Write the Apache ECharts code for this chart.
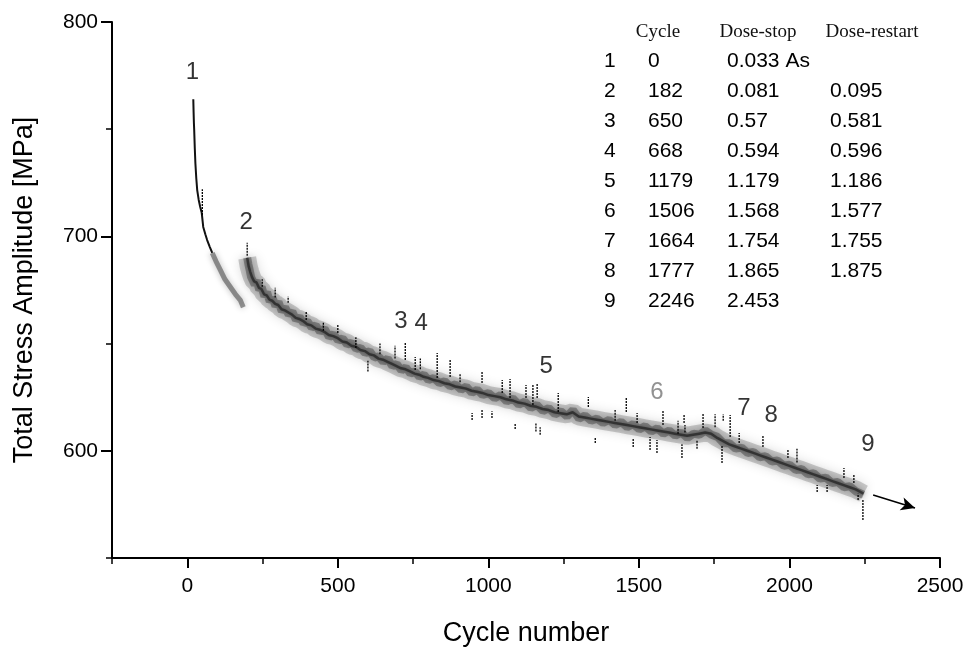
<!DOCTYPE html>
<html><head><meta charset="utf-8">
<script src="https://cdn.jsdelivr.net/npm/echarts@6/dist/echarts.min.js"></script>
<style>html,body{margin:0;padding:0;background:#fff}#c{width:967px;height:647px}</style>
</head><body><div id="c"></div>
<script>
// ---- data ----
const xMajorTicks = [0, 500, 1000, 1500, 2000, 2500];
const yMajorTicks = [600, 700, 800];

const initialBlack = [[20,764],[21,758],[22,753],[23,749.6],[25,741],[27,734],[30,727],[33,721.6],[38,717],[43,713.7],[48,711],[53,704.4],[60,701],[66,698.3],[75,695],[83,692.3]];
const initialGrey = [[83,692.3],[95,688.5],[110,684.3],[125,680],[143,676.4],[160,673],[176,670.3],[186,667]];

const bandCore = [[199,690],[204,686],[209,683.5],[215,681],[222,679],[230,678.5],[238,676],[246,675.5],[255,673],[264,672.5],[273,670.5],[282,670],[292,668.5],[302,668],[313,666],[324,665.5],[336,664.5],[348,663.5],[360,662],[372,661.5],[385,660.5],[398,659],[412,658.5],[426,657],[440,656.5],[455,655.5],[470,654],[485,653.5],[500,652.5],[515,651],[530,650.5],[545,649],[560,648.5],[575,647],[590,646.5],[605,645],[620,644.5],[635,643],[650,642.5],[665,641.5],[680,640.5],[695,639.5],[710,638.5],[725,638],[740,637],[755,636],[770,635.5],[785,634.5],[800,634],[818,633],[836,632.5],[854,631.5],[872,631],[890,630],[908,629.5],[926,629],[944,628],[962,627.5],[980,627],[1000,626],[1020,625.5],[1040,625],[1060,624],[1080,623.5],[1100,622.5],[1120,622],[1140,621],[1160,620.5],[1180,619.5],[1200,619],[1220,618],[1240,617.5],[1260,617],[1280,618],[1300,616],[1320,615.5],[1340,615],[1360,614.5],[1380,614],[1400,613.5],[1420,613],[1440,612.5],[1460,612],[1480,611.5],[1500,611],[1520,610.5],[1540,610],[1560,609.5],[1580,609],[1600,608.5],[1620,608],[1640,607.5],[1660,607],[1680,607.5],[1700,608],[1720,608.5],[1740,608],[1760,606],[1780,604.5],[1800,603],[1820,602],[1840,601],[1860,600],[1880,599],[1900,598],[1920,597],[1940,596],[1960,595],[1980,594],[2000,593],[2020,592],[2040,591],[2060,590],[2080,589],[2100,588],[2120,587],[2140,586],[2160,585],[2180,584],[2200,583],[2220,582],[2246,580]];

// short wiggles of the dark core around the band: [cycle, value]
const bandNoise = [[199,690],[203,687],[207,684.5],[212,681],[218,680.5],[224,677.5],[231,679.5],[239,675],[247,676.5],[256,672],[265,674],[274,669.5],[283,671.5],[293,667.5],[303,669.5],[314,665],[325,667],[337,663.5],[349,665],[361,661],[373,662.5],[386,659.5],[399,660.5],[413,657.5],[427,658.5],[441,655.5],[456,657],[471,653],[486,654.5],[501,651.5],[516,652.5],[531,649.5],[546,650.5],[561,647.5],[576,648],[591,645.5],[606,646.5],[621,643.5],[636,644],[651,641.5],[666,643],[681,639.5],[696,640.5],[711,637.5],[726,639],[741,636],[756,637],[771,634.5],[786,635.5],[801,633],[819,634],[837,631.5],[855,632.5],[873,630],[891,631],[909,628.5],[927,630],[945,627],[963,628.5],[981,626],[1001,627],[1021,624.5],[1041,626],[1061,623],[1081,624.5],[1101,621.5],[1121,623],[1141,620],[1161,621.5],[1181,618.5],[1201,620],[1221,617],[1241,618.5],[1261,616],[1281,619],[1301,615],[1321,616.5],[1341,614],[1361,615],[1381,613],[1401,614.5],[1421,612],[1441,613.5],[1461,611],[1481,612.5],[1501,610],[1521,611.5],[1541,609],[1561,610.5],[1581,608],[1601,609.5],[1621,607],[1641,608.5],[1661,606],[1681,608],[1701,607.5],[1721,609.5],[1741,607.5],[1761,606.5],[1781,603.5],[1801,603.5],[1821,601],[1841,601.5],[1861,599],[1881,599.5],[1901,597],[1921,597.5],[1941,595],[1961,595.5],[1981,593],[2001,593.5],[2021,591],[2041,591.5],[2061,589],[2081,589.5],[2101,587],[2121,587.5],[2141,585],[2161,585.5],[2181,583],[2201,583.5],[2221,581],[2246,579.5]];

// spikes: [cycle, low, high]
const spikes = [[50,710,722],[199,691,697],[249,676.5,680],[292,671.5,676],[335,669,672],[395,661,665],[452,656,660],[500,655,659],[560,648,653],[600,637,642],[640,645,650],[690,643,649],
[724,642.4,650.3],[757,637.7,643.7],[774,638,643],[830,634,645.6],[873,634.4,642.4],[906,632,636],[946,614.4,617.6],[979,631.6,636.8],[979,615.3,619],[1012,615.3,618.5],[1046,627,633],[1072,624.6,633.5],[1089,610.2,612.5],[1125,624.6,630.7],[1148,621.4,630.7],[1162,624.6,631.6],[1158,609,613],[1172,607.5,611],[1232,618.1,627],[1332,620.4,625.1],[1355,603.6,606.4],[1421,614,619],[1458,618.1,625.1],[1481,601.8,606],[1494,613,617.6],[1537,600.4,606.4],[1560,599,605],[1580,612,619],[1630,608,614],[1643,596.6,603],[1653,608.5,612],[1693,601,605],
[1650,613,616.7],[1713,610.6,617.6],[1753,611,617],[1780,614,617],[1803,606.4,616.7],[1776,594.3,602.7],[1833,603.6,608.3],[1912,601.8,607.4],[1995,596.6,600.4],[2025,594.5,601],[2092,580.8,584],[2125,580.8,584],[2181,587.3,592],[2214,585,588.7],[2228,577,580],[2244,567.7,577]];

const markerLabels = ['1','2','3','4','5','6','7','8','9'];
const markerCycles = [17,196,710,777,1192,1560,1849,1939,2261];
const markerValues = [776.7,706.7,660.5,659.6,639.6,627.4,620,616.7,603.2];
const arrowStart = [2278, 579.4];
const arrowEnd = [2417, 573.3];

const tableHeader = ['Cycle','Dose-stop','Dose-restart'];
const tableIndex = ['1','2','3','4','5','6','7','8','9'];
const tableCycle = ['0','182','650','668','1179','1506','1664','1777','2246'];
const tableDoseStop = ['0.033 As','0.081','0.57','0.594','1.179','1.568','1.754','1.865','2.453'];
const tableDoseRestart = ['','0.095','0.581','0.596','1.186','1.577','1.755','1.875',''];

// ---- chart ----
const SANS = '"Liberation Sans", Arial, sans-serif';
const SERIF = '"Liberation Serif", "Times New Roman", serif';
const chart = echarts.init(document.getElementById('c'), null, {renderer:'canvas'});

const graphics = [];
const headerX = [658, 758, 872];
tableHeader.forEach((t,i)=>graphics.push({type:'text', x:headerX[i], y:32, style:{text:t, font:'19px '+SERIF, fill:'#111', textAlign:'center', textVerticalAlign:'middle'}}));
const rowY0 = 61, rowStep = 30;
for (let i=0;i<tableIndex.length;i++){
  const y = rowY0 + i*rowStep;
  const f = '21px '+SANS;
  graphics.push({type:'text', x:604, y:y, style:{text:tableIndex[i], font:f, fill:'#000', textVerticalAlign:'middle'}});
  graphics.push({type:'text', x:648, y:y, style:{text:tableCycle[i], font:f, fill:'#000', textVerticalAlign:'middle'}});
  graphics.push({type:'text', x:727, y:y, style:{text:tableDoseStop[i], font:f, fill:'#000', textVerticalAlign:'middle'}});
  graphics.push({type:'text', x:830, y:y, style:{text:tableDoseRestart[i], font:f, fill:'#000', textVerticalAlign:'middle'}});
}

const axisBase = {
  type:'value', splitLine:{show:false},
  axisLine:{show:true, onZero:false, lineStyle:{color:'#000', width:2}},
};
const plainFmt = v => String(v);

chart.setOption({
  animation:false,
  backgroundColor:'#fff',
  grid:{left:112, right:27, top:22, bottom:89, containLabel:false, outerBoundsMode:'none'},
  xAxis:[
    Object.assign({}, axisBase, {min:-250, max:2500, interval:250,
      axisTick:{show:true, inside:false, length:6, lineStyle:{color:'#000', width:1.5}},
      axisLabel:{show:false},
      name:'Cycle number', nameLocation:'middle', nameGap:62,
      nameTextStyle:{fontSize:27, fontFamily:SANS, color:'#000'}}),
    Object.assign({}, axisBase, {min:-250, max:2500, position:'bottom',
      axisLine:{show:false, onZero:false},
      axisTick:{show:true, length:10, customValues:xMajorTicks, lineStyle:{color:'#000', width:2}},
      axisLabel:{show:true, customValues:xMajorTicks, formatter:plainFmt, fontSize:21, fontFamily:SANS, color:'#000', margin:18}})
  ],
  yAxis:[
    Object.assign({}, axisBase, {min:550, max:800, interval:50,
      axisTick:{show:true, length:6, lineStyle:{color:'#000', width:1.5}},
      axisLabel:{show:false},
      name:'Total Stress Amplitude [MPa]', nameLocation:'middle', nameGap:74,
      nameTextStyle:{fontSize:27, fontFamily:SANS, color:'#000'}}),
    Object.assign({}, axisBase, {min:550, max:800, position:'left',
      axisLine:{show:false, onZero:false},
      axisTick:{show:true, length:11, customValues:yMajorTicks, lineStyle:{color:'#000', width:2}},
      axisLabel:{show:true, customValues:yMajorTicks, formatter:plainFmt, fontSize:21, fontFamily:SANS, color:'#000', margin:14}})
  ],
  graphic: graphics,
  series:[
    {type:'line', data:initialGrey, showSymbol:false, symbol:'none', z:2,
      lineStyle:{color:'rgba(80,80,80,0.6)', width:5, shadowBlur:6, shadowColor:'rgba(0,0,0,0.45)'}},
    {type:'line', data:initialBlack, showSymbol:false, symbol:'none', z:3,
      lineStyle:{color:'#111', width:2}},
    {type:'line', data:bandCore, showSymbol:false, symbol:'none', z:2,
      lineStyle:{color:'rgba(130,130,130,0.4)', width:18, shadowBlur:12, shadowColor:'rgba(0,0,0,0.3)'}},
    {type:'line', data:bandNoise, showSymbol:false, symbol:'none', z:2,
      lineStyle:{color:'rgba(60,60,60,0.45)', width:8, shadowBlur:7, shadowColor:'rgba(0,0,0,0.45)'}},
    {type:'line', data:bandCore, showSymbol:false, symbol:'none', z:3,
      lineStyle:{color:'rgba(15,15,15,0.55)', width:2.5, shadowBlur:3, shadowColor:'rgba(0,0,0,0.5)'}},
    {type:'custom', data:spikes, z:4, encode:{x:0, y:[1,2]},
      renderItem:function(params, api){
        const p1 = api.coord([api.value(0), api.value(1)]);
        const p2 = api.coord([api.value(0), api.value(2)]);
        return {type:'line', shape:{x1:p1[0], y1:p1[1], x2:p2[0], y2:p2[1]},
          style:{stroke:'#000', lineWidth:1.3, lineDash:[2,1]}};
      }},
    {type:'scatter', symbolSize:0, z:5,
      data: markerCycles.map((c,i)=>({value:[c, markerValues[i]], name:markerLabels[i],
        label:{color: i===5 ? '#777' : '#000'}})),
      label:{show:true, position:'inside', formatter:'{b}', fontSize:24, fontFamily:SANS},
      markLine:{silent:true, symbol:['none','arrow'], symbolSize:[10,14],
        lineStyle:{color:'#000', width:1.5, type:'solid'}, label:{show:false},
        data:[[{coord:arrowStart},{coord:arrowEnd}]]}
    }
  ]
});
</script></body></html>
